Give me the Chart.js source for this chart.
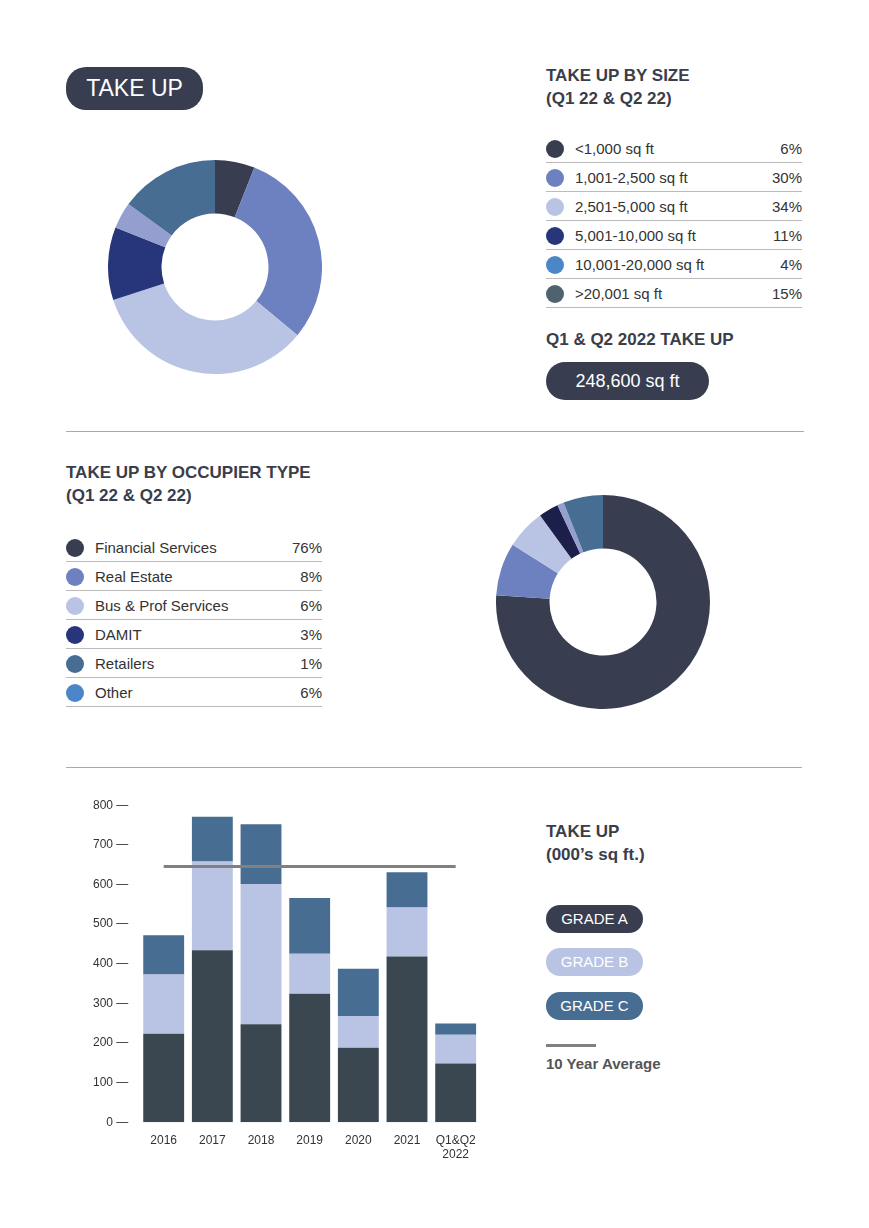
<!DOCTYPE html>
<html>
<head>
<meta charset="utf-8">
<script src="https://cdn.jsdelivr.net/npm/chart.js@4/dist/chart.umd.min.js"></script>
<style>
  body { margin: 0; background: #fff; font-family: "Helvetica", "Liberation Sans", Arial, sans-serif; color: #3a3d4a; }
  #page { position: relative; width: 869px; height: 1228px; }
  .abs { position: absolute; }
  .pill { position: absolute; border-radius: 20px; color: #fff; text-align: center; }
  h3 { margin: 0; font-size: 17px; font-weight: bold; line-height: 23px; color: #3a3d4a; }
  table { border-collapse: collapse; font-size: 15px; color: #333; }
  td { height: 28px; border-bottom: 1px solid #bbb; padding: 0; }
  td.dot { width: 29px; }
  td.pct { text-align: right; }
  .d { display: inline-block; width: 18px; height: 18px; border-radius: 50%; vertical-align: middle; }
  .rule { position: absolute; height: 1px; background: #aaa; }
</style>
</head>
<body>
<div id="page">
  <div class="pill" style="left:66px;top:67px;width:137px;height:43px;line-height:43px;background:#383d50;font-size:23px;">TAKE UP</div>
  <h3 class="abs" style="left:546px;top:64px;">TAKE UP BY SIZE<br>(Q1 22 &amp; Q2 22)</h3>
  <table class="abs" id="sizeTable" style="left:546px;top:134px;width:256px;"></table>
  <h3 class="abs" style="left:546px;top:328px;">Q1 &amp; Q2 2022 TAKE UP</h3>
  <div class="pill" style="left:546px;top:362px;width:163px;height:38px;line-height:38px;background:#383d50;font-size:18px;">248,600 sq ft</div>
  <div class="abs" style="left:108px;top:160px;width:214px;height:214px;"><canvas id="sizeChart"></canvas></div>

  <div class="rule" style="left:66px;top:431px;width:738px;"></div>

  <h3 class="abs" style="left:66px;top:461px;">TAKE UP BY OCCUPIER TYPE<br>(Q1 22 &amp; Q2 22)</h3>
  <table class="abs" id="occTable" style="left:66px;top:533px;width:256px;"></table>
  <div class="abs" style="left:496px;top:495px;width:214px;height:214px;"><canvas id="occChart"></canvas></div>

  <div class="rule" style="left:66px;top:767px;width:736px;"></div>

  <div class="abs" style="left:90px;top:795px;width:400px;height:370px;"><canvas id="barChart"></canvas></div>
  <h3 class="abs" style="left:546px;top:820px;">TAKE UP<br>(000’s sq ft.)</h3>
  <div class="pill" style="left:546px;top:905px;width:97px;height:28px;line-height:28px;background:#383d50;font-size:15px;">GRADE A</div>
  <div class="pill" style="left:546px;top:948px;width:97px;height:28px;line-height:28px;background:#b9c4e4;font-size:15px;">GRADE B</div>
  <div class="pill" style="left:546px;top:992px;width:97px;height:28px;line-height:28px;background:#476d92;font-size:15px;">GRADE C</div>
  <div class="abs" style="left:546px;top:1044px;width:50px;height:3px;background:#808080;"></div>
  <div class="abs" style="left:546px;top:1055px;font-size:15px;font-weight:bold;color:#555;">10 Year Average</div>
</div>
<script>
const sizeLabels = ["<1,000 sq ft", "1,001-2,500 sq ft", "2,501-5,000 sq ft", "5,001-10,000 sq ft", "10,001-20,000 sq ft", ">20,001 sq ft"];
const sizeValues = [6, 30, 34, 11, 4, 15];
const sizeColors = ["#383d50", "#6d80bf", "#b9c4e4", "#27357a", "#959fcf", "#476d92"];
const sizeDots = ["#383d50", "#6d80bf", "#b9c4e4", "#27357a", "#4a86c8", "#4f6270"];

const occLabels = ["Financial Services", "Real Estate", "Bus & Prof Services", "DAMIT", "Retailers", "Other"];
const occValues = [76, 8, 6, 3, 1, 6];
const occColors = ["#383d50", "#6d80bf", "#b9c4e4", "#1c1f4a", "#959fcf", "#476d92"];
const occDots = ["#383d50", "#6d80bf", "#b9c4e4", "#27357a", "#476d92", "#4a86c8"];

const years = ["2016", "2017", "2018", "2019", "2020", "2021", ["Q1&Q2", "2022"]];
const gradeA = [223, 434, 247, 324, 188, 418, 148];
const gradeB = [150, 224, 354, 101, 80, 124, 73];
const gradeC = [99, 113, 151, 141, 119, 89, 28];
const tenYearAvg = 645;

function fillTable(id, labels, values, dots) {
  let t = document.getElementById(id);
  labels.forEach((l, i) => {
    t.innerHTML += `<tr><td class="dot"><span class="d" style="background:${dots[i]}"></span></td>
      <td>${l.replace("<", "&lt;")}</td><td class="pct">${values[i]}%</td></tr>`;
  });
}
fillTable("sizeTable", sizeLabels, sizeValues, sizeDots);
fillTable("occTable", occLabels, occValues, occDots);

function donut(id, labels, values, colors) {
  new Chart(document.getElementById(id), {
    type: "doughnut",
    data: { labels: labels, datasets: [{ data: values, backgroundColor: colors, borderWidth: 0 }] },
    options: {
      responsive: true, maintainAspectRatio: false, animation: false, cutout: "50%",
      plugins: { legend: { display: false }, tooltip: { enabled: false } },
    },
  });
}
donut("sizeChart", sizeLabels, sizeValues, sizeColors);
donut("occChart", occLabels, occValues, occColors);

new Chart(document.getElementById("barChart"), {
  data: {
    labels: years,
    datasets: [
      { type: "line", data: years.map(() => tenYearAvg), borderColor: "#808080", borderWidth: 3, pointRadius: 0, order: 0 },
      { type: "bar", data: gradeA, backgroundColor: "#3a4650", categoryPercentage: 0.84, barPercentage: 1, order: 1 },
      { type: "bar", data: gradeB, backgroundColor: "#b9c4e4", categoryPercentage: 0.84, barPercentage: 1, order: 1 },
      { type: "bar", data: gradeC, backgroundColor: "#476d92", categoryPercentage: 0.84, barPercentage: 1, order: 1 },
    ],
  },
  options: {
    responsive: true, maintainAspectRatio: false, animation: false,
    layout: { padding: { right: 10, top: 8 } },
    plugins: { legend: { display: false }, tooltip: { enabled: false } },
    scales: {
      x: {
        stacked: true, grid: { display: false }, border: { display: false },
        ticks: { color: "#333", font: { size: 12 }, maxRotation: 0 },
      },
      y: {
        stacked: true, min: 0, max: 800, grid: { display: false }, border: { display: false },
        ticks: { stepSize: 100, color: "#333", font: { size: 12 }, callback: (v) => v + " —" },
      },
    },
  },
});
</script>
</body>
</html>
